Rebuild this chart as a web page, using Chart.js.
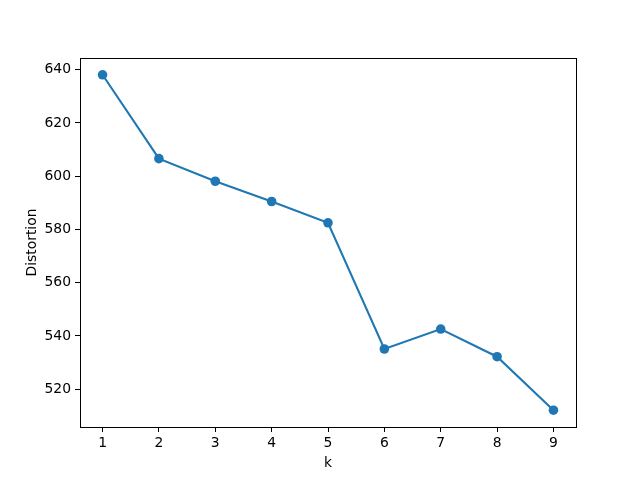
<!DOCTYPE html>
<html>
<head>
<meta charset="utf-8">
<script src="https://cdn.jsdelivr.net/npm/chart.js@4/dist/chart.umd.min.js"></script>
<style>
  body { margin:0; background:#fff; }
  canvas { display:block; }
</style>
</head>
<body>
<canvas id="elbow" width="640" height="480"></canvas>
<script>
// data
const kValues = [1, 2, 3, 4, 5, 6, 7, 8, 9];
const distortion = [638.1, 606.6, 598.1, 590.5, 582.5, 535.1, 542.6, 532.2, 512.1];
const xTicks = [1, 2, 3, 4, 5, 6, 7, 8, 9];
const yTicks = [520, 540, 560, 580, 600, 620, 640];

const blue = "#1f77b4";
const font = { family:"DejaVu Sans", size:13.9 };

// matplotlib-like 5% margins
const yMin = Math.min(...distortion), yMax = Math.max(...distortion);
const yPad = (yMax - yMin) * 0.05;

// full box round the plot area
const frame = {
  id:"frame",
  afterDraw(chart){
    const a = chart.chartArea, ctx = chart.ctx;
    ctx.save();
    ctx.strokeStyle = "#000";
    ctx.lineWidth = 1;
    ctx.strokeRect(Math.round(a.left)+0.5, Math.round(a.top)+0.5,
      Math.round(a.right-a.left), Math.round(a.bottom-a.top));
    ctx.restore();
  }
};

const canvas = document.getElementById("elbow");
new Chart(canvas, {
  type:"line",
  data:{
    datasets:[{
      data:kValues.map((k,i)=>({ x:k, y:distortion[i] })),
      borderColor:blue,
      backgroundColor:blue,
      borderWidth:2.1,
      pointRadius:4.8,
      pointBorderWidth:0,
      pointBackgroundColor:blue,
      tension:0
    }]
  },
  options:{
    responsive:false,
    animation:false,
    layout:{ padding:{ left:0, top:58, right:64, bottom:0 } },
    plugins:{ legend:{ display:false }, tooltip:{ enabled:false } },
    scales:{
      x:{
        type:"linear",
        min:0.6, max:9.4,
        afterBuildTicks: s => { s.ticks = xTicks.map(v=>({ value:v })); },
        afterFit: s => { s.height = 53; },
        border:{ display:true, color:"#000", width:1 },
        grid:{ display:true, drawOnChartArea:false, drawTicks:true, tickLength:5, tickColor:"#000", tickWidth:1 },
        ticks:{ color:"#000", font, padding:3, maxRotation:0 },
        title:{ display:true, text:"k", color:"#000", font, padding:{ top:0, bottom:8 } }
      },
      y:{
        type:"linear",
        min:yMin - yPad, max:yMax + yPad,
        afterBuildTicks: s => { s.ticks = yTicks.map(v=>({ value:v })); },
        afterFit: s => { s.width = 80; },
        border:{ display:true, color:"#000", width:1 },
        grid:{ display:true, drawOnChartArea:false, drawTicks:true, tickLength:5, tickColor:"#000", tickWidth:1 },
        ticks:{ color:"#000", font, padding:4 },
        title:{ display:true, text:"Distortion", color:"#000", font, padding:{ top:24, bottom:0 } }
      }
    }
  },
  plugins:[frame]
});
</script>
</body>
</html>
